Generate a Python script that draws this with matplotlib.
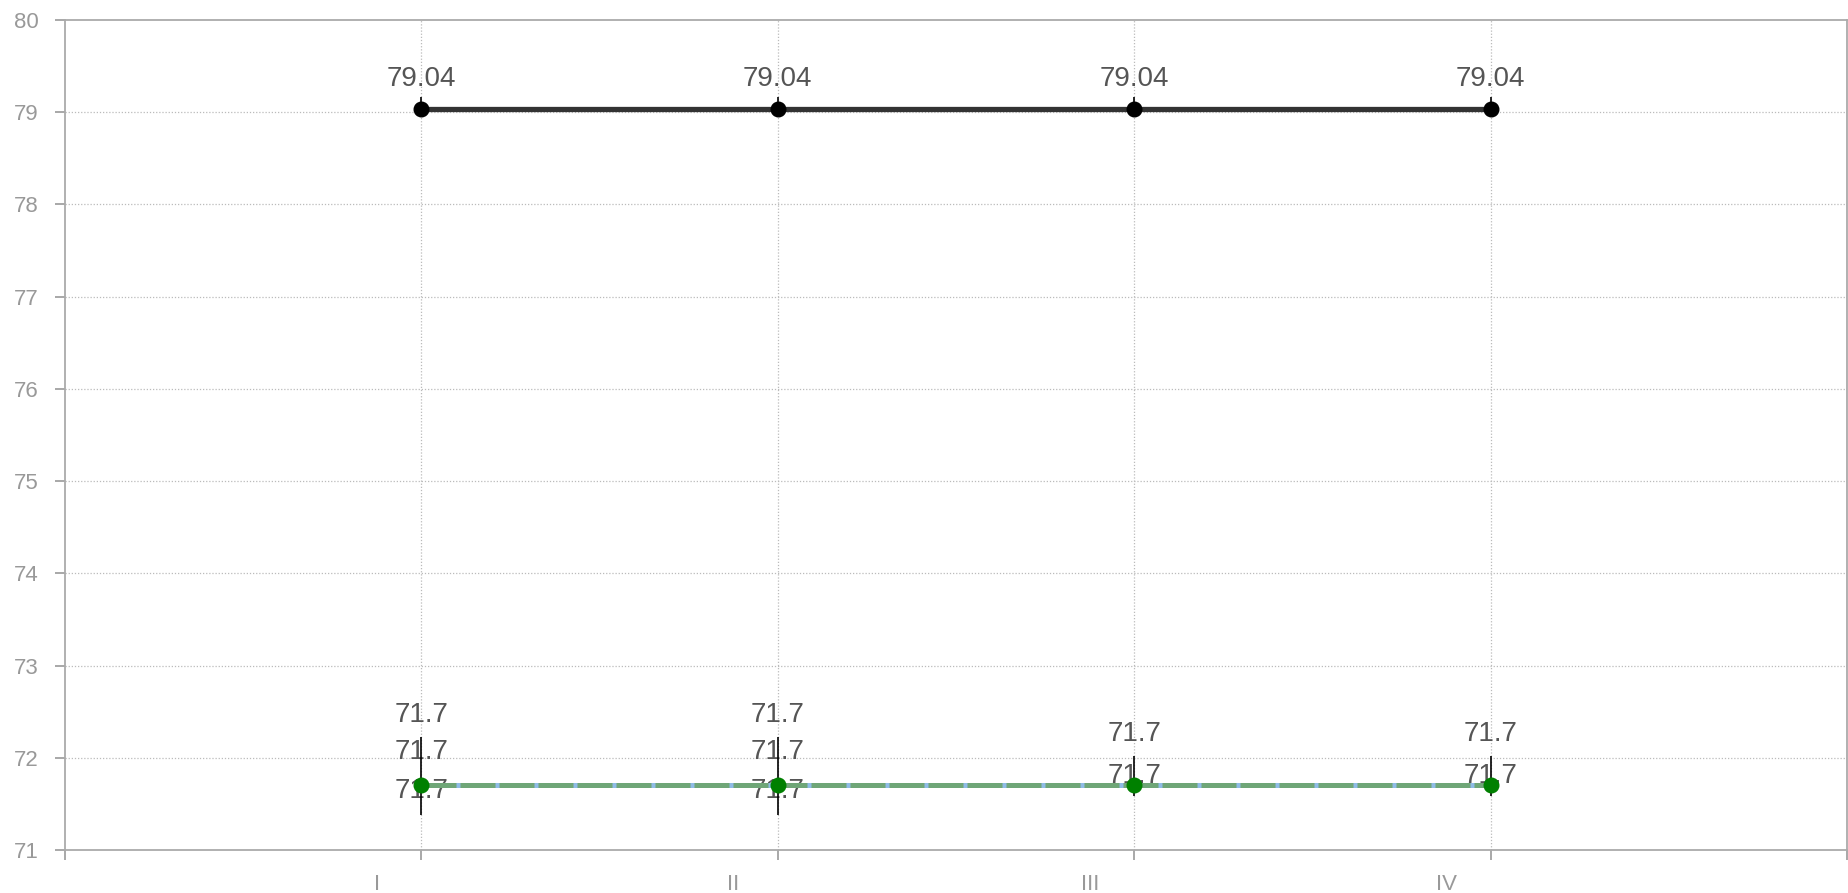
import numpy as np
import matplotlib
matplotlib.use("Agg")
import matplotlib.pyplot as plt

# categories and series values
categories = ["I", "II", "III", "IV"]
upper_vals = [79.04, 79.04, 79.04, 79.04]
upper_err_up = [0.12, 0.12, 0.12, 0.12]
lower_vals = [71.7, 71.7, 71.7, 71.7]
lower_err_up = [0.53, 0.53, 0.32, 0.32]
lower_err_down = [0.32, 0.32, 0.11, 0.11]
# how many "71.7" labels sit at each category
lower_label_counts = [3, 3, 2, 2]
y_ticks = [71, 72, 73, 74, 75, 76, 77, 78, 79, 80]

plt.rcParams['font.family'] = ['Liberation Sans', 'DejaVu Sans']

fig = plt.figure(figsize=(18.48, 8.93), dpi=100)
ax = fig.add_axes([65 / 1848, 1 - 850 / 893, (1847 - 65) / 1848, (850 - 20) / 893])

x = np.arange(1, len(categories) + 1)

# upper series
ax.plot(x, upper_vals, color="#333333", lw=3.8, zorder=3, solid_capstyle="butt")
ax.errorbar(x, upper_vals, yerr=[[0] * 4, upper_err_up], fmt="none",
            ecolor="black", elinewidth=1.2, capsize=0, zorder=4)
ax.plot(x, upper_vals, "o", color="black", ms=10.5, zorder=5)

# lower series (overlapping)
ax.plot(x, lower_vals, color="#8fbbe6", lw=3.6, zorder=3)
ax.plot(x, lower_vals, color="#6fa677", lw=3.6, dashes=(7, 0.8), zorder=3)
ax.errorbar(x, lower_vals, yerr=[lower_err_down, lower_err_up], fmt="none",
            ecolor="black", elinewidth=1.2, capsize=0, zorder=4)
ax.plot(x, lower_vals, "o", color="#008000", ms=10.5, zorder=5)

# value labels
lab_kw = dict(ha="center", va="center", fontsize=20, color="#555555",
              textcoords="offset points", zorder=2)
for xi, v in zip(x, upper_vals):
    ax.annotate(f"{v:g}", (xi, v), xytext=(0, 21), **lab_kw)
offsets = {3: [51, 24, -4], 2: [37, 7]}
for xi, v, n in zip(x, lower_vals, lower_label_counts):
    for off in offsets[n]:
        ax.annotate(f"{v:g}", (xi, v), xytext=(0, off), **lab_kw)

ax.set_xlim(0, len(categories) + 1)
ax.set_ylim(71, 80)
ax.set_yticks(y_ticks)
ax.set_yticklabels([str(t) for t in y_ticks])
ax.set_xticks(np.arange(0, len(categories) + 2))
ax.set_xticklabels([])
# category labels sit a little left of their tick marks
ax.set_xticks(x - 0.124, minor=True)
ax.set_xticklabels(categories, minor=True)

ax.tick_params(axis="both", which="both", colors="#999999", labelcolor="#999999",
               labelsize=16, length=7, width=1.2)
ax.tick_params(axis="x", which="minor", length=0, pad=17)
ax.tick_params(axis="y", pad=12)

for s in ax.spines.values():
    s.set_color("#aaaaaa")
    s.set_linewidth(1.3)

# grid: dotted, only at categories and inner y ticks
for xi in x:
    ax.axvline(xi, color="#bbbbbb", lw=0.9, ls=(0, (1, 1.5)), zorder=1)
for yt in y_ticks[1:-1]:
    ax.axhline(yt, color="#bbbbbb", lw=0.9, ls=(0, (1, 1.5)), zorder=1)

fig.savefig("out.png", dpi=100)
